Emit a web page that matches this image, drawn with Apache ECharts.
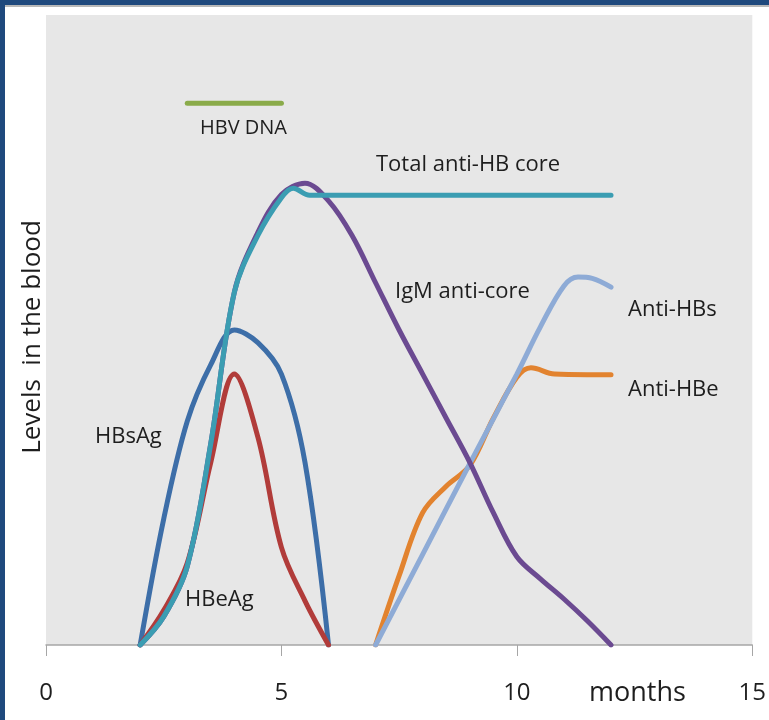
<!DOCTYPE html>
<html>
<head>
<meta charset="utf-8">
<script src="https://cdn.jsdelivr.net/npm/echarts@6/dist/echarts.min.js"></script>
<style>
  html, body { margin: 0; padding: 0; background: #fff; }
  #chart { width: 769px; height: 720px; }
</style>
</head>
<body>
<div id="chart"></div>
<script>
  // 横轴刻度
  const xTicks = [0, 5, 10, 15]
  // 各曲线 [月, 水平]
  const hbvDna = [[3, 86], [5, 86]]
  const hbsAg = [[2, 0], [2.5, 20], [3, 35.5], [3.5, 44.5], [4, 50], [4.5, 48], [5, 43], [5.5, 29], [6, 0]]
  const hbeAg = [[2, 0], [2.5, 5.5], [3, 13], [3.5, 29], [4, 43], [4.5, 33], [5, 15.5], [5.5, 7], [6, 0]]
  const totalCore = [[2, 0], [2.5, 4.5], [3, 12.5], [3.5, 32], [4, 56], [4.5, 65], [5, 71], [5.25, 72.5], [5.6, 71.4], [6, 71.4], [8, 71.4], [10, 71.4], [12, 71.4]]
  const igmCore = [[2, 0], [2.5, 4.5], [3, 12.5], [3.5, 32], [4, 56], [4.5, 65.5], [5, 71.5], [5.5, 73.3], [6, 70.5], [6.5, 65], [7, 57.5], [7.5, 50], [8, 43], [8.5, 36], [9, 29], [9.5, 21], [10, 14], [10.5, 10.5], [11, 7.3], [11.5, 3.8], [12, 0]]
  const antiHBs = [[7, 0], [8, 14.4], [9, 28.8], [10, 43], [10.5, 50.5], [11, 57], [11.3, 58.4], [11.6, 58.2], [12, 56.8]]
  const antiHBe = [[7, 0], [7.5, 11], [8, 21], [8.5, 25.2], [9, 28.5], [9.5, 36], [10, 42.5], [10.3, 44], [10.8, 43], [11.5, 42.9], [12, 42.9]]

  const font = '"Open Sans", "Noto Sans", sans-serif'
  const txtColor = '#1e1e1e'

  function line (name, data, color, z) {
    return {
      name: name,
      type: 'line',
      data: data,
      smooth: 0.35,
      showSymbol: false,
      z: z,
      lineStyle: { color: color, width: 5, cap: 'round' }
    }
  }

  // 文字标注：x 为左边缘，y 为垂直中心
  function label (text, x, y, size) {
    return {
      type: 'text',
      x: x,
      y: y,
      z: 100,
      style: { text: text, fill: txtColor, font: (size || 22) + 'px ' + font, align: 'left', verticalAlign: 'middle' }
    }
  }

  const myChart = echarts.init(document.getElementById('chart'))
  myChart.setOption({
    animation: false,
    backgroundColor: '#ffffff',
    textStyle: { fontFamily: font },
    grid: {
      left: 46, right: 14, top: 15, bottom: 75,
      show: true,
      backgroundColor: '#e7e7e7',
      borderWidth: 0
    },
    xAxis: {
      type: 'value',
      min: xTicks[0],
      max: xTicks[xTicks.length - 1],
      interval: 5,
      axisLine: { show: true, lineStyle: { color: '#a6a6a6', width: 1.5 } },
      axisTick: { show: true, length: 11, lineStyle: { color: '#a6a6a6' } },
      axisLabel: { color: txtColor, fontSize: 24, margin: 36, fontFamily: font },
      splitLine: { show: false }
    },
    yAxis: {
      type: 'value',
      min: 0,
      max: 100,
      axisLine: { show: false },
      axisTick: { show: false },
      axisLabel: { show: false },
      splitLine: { show: false }
    },
    graphic: [
      // 边框
      { type: 'rect', left: 0, top: 0, shape: { width: 769, height: 5 }, style: { fill: '#1f497d' }, z: 110 },
      { type: 'rect', left: 0, top: 5, shape: { width: 769, height: 2 }, style: { fill: '#b8b8b8' }, z: 110 },
      { type: 'rect', left: 0, top: 0, shape: { width: 5, height: 720 }, style: { fill: '#1f497d' }, z: 110 },
      // 纵轴标题
      {
        type: 'text',
        x: 33,
        y: 337,
        rotation: Math.PI / 2,
        z: 100,
        style: { text: 'Levels  in the blood', fill: txtColor, font: '26px ' + font, align: 'center', verticalAlign: 'middle' }
      },
      label('HBV DNA', 200, 128, 20),
      label('Total anti-HB core', 376, 165),
      label('IgM anti-core', 395, 292),
      label('Anti-HBs', 628, 310),
      label('Anti-HBe', 628, 390),
      label('HBsAg', 95, 437),
      label('HBeAg', 185, 600),
      label('months', 589, 693, 27)
    ],
    series: [
      line('HBsAg', hbsAg, '#3d6ea8', 2),
      line('HBeAg', hbeAg, '#b13c3a', 3),
      line('Anti-HBe', antiHBe, '#e2832f', 4),
      line('Anti-HBs', antiHBs, '#8eabd6', 5),
      line('IgM anti-core', igmCore, '#6b4a91', 6),
      line('Total anti-HB core', totalCore, '#3b9db2', 7),
      line('HBV DNA', hbvDna, '#8aab4a', 8)
    ]
  })
</script>
</body>
</html>
